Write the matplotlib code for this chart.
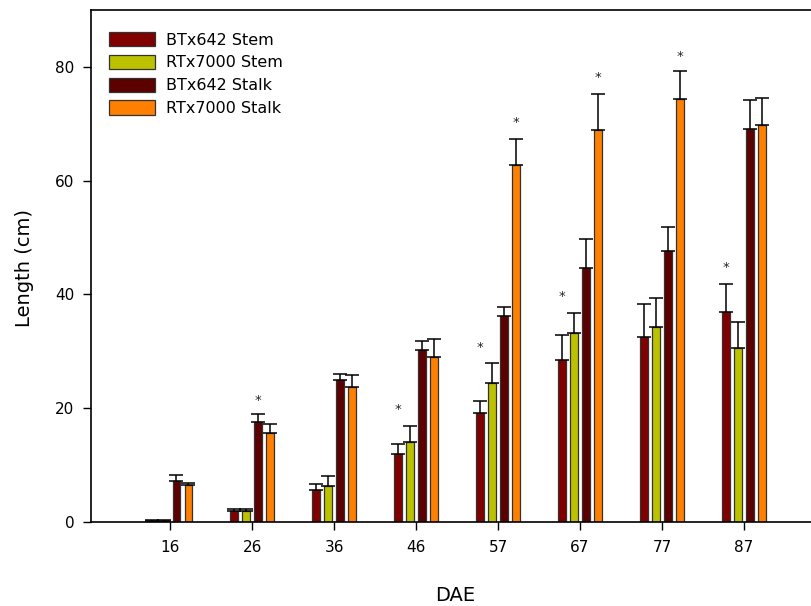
import matplotlib
matplotlib.use("Agg")
import matplotlib.pyplot as plt
import numpy as np

plt.rcParams['font.family'] = ['DejaVu Sans']

days = ["16", "26", "36", "46", "57", "67", "77", "87"]
series_names = ["BTx642 Stem", "RTx7000 Stem", "BTx642 Stalk", "RTx7000 Stalk"]
colors = ["#800000", "#bcc200", "#5c0000", "#ff8000"]

btx_stem = [0.1, 1.9, 5.6, 12.0, 19.1, 28.5, 32.6, 36.9]
rtx_stem = [0.1, 1.9, 6.3, 14.0, 24.5, 33.2, 34.3, 30.6]
btx_stalk = [7.2, 17.5, 25.0, 30.2, 36.2, 44.7, 47.6, 69.1]
rtx_stalk = [6.5, 15.7, 23.7, 29.0, 62.8, 68.9, 74.3, 69.7]

btx_stem_err = [0.3, 0.4, 1.0, 1.7, 2.2, 4.3, 5.7, 5.0]
rtx_stem_err = [0.3, 0.4, 1.7, 2.8, 3.5, 3.5, 5.0, 4.6]
btx_stalk_err = [1.1, 1.4, 1.0, 1.7, 1.6, 5.0, 4.3, 5.1]
rtx_stalk_err = [0.4, 1.5, 2.1, 3.2, 4.5, 6.3, 5.0, 4.9]

# significance stars: (group index, series index, y)
star_group = [1, 3, 4, 4, 5, 5, 6, 7]
star_series = [2, 0, 0, 3, 0, 3, 3, 0]
star_y = [21.4, 19.7, 30.6, 70.3, 39.6, 78.1, 81.8, 44.7]

values = [btx_stem, rtx_stem, btx_stalk, rtx_stalk]
errors = [btx_stem_err, rtx_stem_err, btx_stalk_err, rtx_stalk_err]

fig = plt.figure(figsize=(8.11, 6.06), dpi=100)
ax = fig.add_axes([91/811, 84/606, 1 - 91/811, (522-10)/606])

x = np.arange(len(days))
offsets = [-0.22, -0.073, 0.073, 0.22]
width = 0.095

for i in range(4):
    ax.bar(x + offsets[i], values[i], width, color=colors[i], edgecolor="#333333",
           linewidth=0.9, label=series_names[i], zorder=2)
    ax.errorbar(x + offsets[i], values[i], yerr=[np.zeros(len(days)), errors[i]],
                fmt="none", ecolor="black", elinewidth=1.1, capsize=5, capthick=1.1, zorder=3)

for g, s, yv in zip(star_group, star_series, star_y):
    ax.text(g + offsets[s], yv, "*", ha="center", va="center", fontsize=9.5, color="#222222")

ax.set_xlim(-0.97, 7.82)
ax.set_ylim(0, 90)
ax.set_xticks(x)
ax.set_xticklabels(days)
ax.set_yticks([0, 20, 40, 60, 80])
ax.tick_params(axis="both", labelsize=11, direction="out", length=6, width=1, pad=6)
ax.tick_params(axis="x", pad=7)
ax.spines["right"].set_visible(False)
for sp in ["left", "bottom", "top"]:
    ax.spines[sp].set_linewidth(1.2)

ax.set_xlabel("DAE", fontsize=14, va="center")
ax.xaxis.set_label_coords(0.5056, -0.1426)
ax.set_ylabel("Length (cm)", fontsize=14, va="center")
ax.yaxis.set_label_coords(-0.093, 0.496)

leg = ax.legend(loc="upper left", bbox_to_anchor=(0.005, 0.985), frameon=False, fontsize=11.5,
                handlelength=2.9, handleheight=1.0, labelspacing=0.45, handletextpad=0.65)

fig.savefig("out.png", dpi=100)
